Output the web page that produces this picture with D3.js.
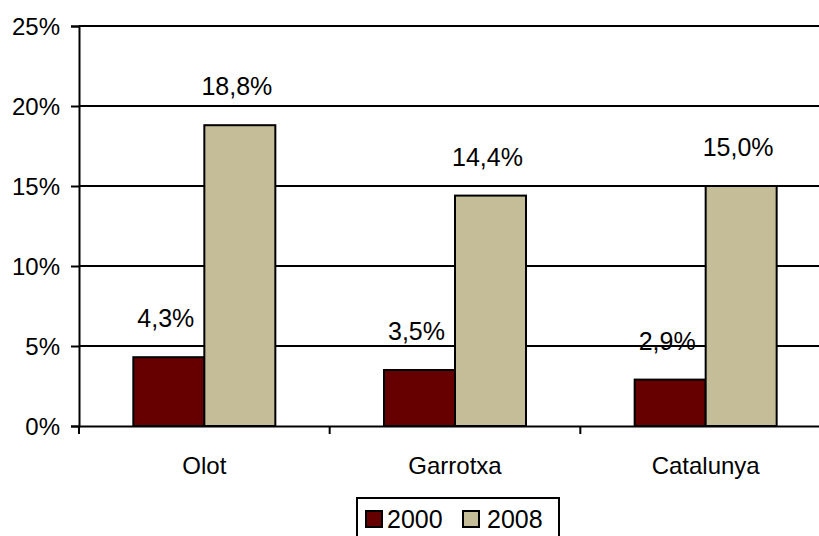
<!DOCTYPE html>
<html>
<head>
<meta charset="utf-8">
<script src="https://cdn.jsdelivr.net/npm/d3@7"></script>
<style>
  body { margin: 0; background: #fff; }
  text { font-family: "Liberation Sans", Arial, sans-serif; fill: #000; }
</style>
</head>
<body>
<div id="chart"></div>
<script>
var categories = ['Olot', 'Garrotxa', 'Catalunya']
var years = ['2000', '2008']
var values2000 = [4.3, 3.5, 2.9]
var values2008 = [18.8, 14.4, 15.0]
var yTicks = [0, 5, 10, 15, 20, 25]
var colors = ['#660000', '#C4BD97']

var width = 819, height = 536
var margin = {top: 26, left: 79, bottom: 110}
var plotRight = 831

var svg = d3.select('#chart').append('svg')
    .attr('width', width)
    .attr('height', height)

var y = d3.scaleLinear()
    .domain([0, 25])
    .range([426, margin.top])

var x = d3.scaleBand()
    .domain(categories)
    .range([margin.left, plotRight])

var xs = d3.scaleBand()
    .domain(years)
    .range([0, 142])

// gridlines
svg.append('g')
    .selectAll('line')
    .data(yTicks.slice(1))
    .enter()
    .append('line')
    .attr('x1', margin.left)
    .attr('x2', width)
    .attr('y1', d => y(d))
    .attr('y2', d => y(d))
    .attr('stroke', 'black')
    .attr('stroke-width', 2)

var data = categories.map((c, i) => ({cat: c, vals: [values2000[i], values2008[i]]}))

// bars
var groups = svg.selectAll('.cat')
    .data(data)
    .enter()
    .append('g')
    .attr('transform', d => 'translate(' + (x(d.cat) + (x.bandwidth() - 142) / 2) + ',0)')

groups.selectAll('rect')
    .data(d => d.vals.map((v, j) => ({year: years[j], v: v, j: j})))
    .enter()
    .append('rect')
    .attr('x', d => xs(d.year))
    .attr('width', xs.bandwidth())
    .attr('y', d => y(d.v))
    .attr('height', d => y(0) - y(d.v))
    .attr('fill', d => colors[d.j])
    .attr('stroke', 'black')
    .attr('stroke-width', 2)

groups.selectAll('.lbl')
    .data(d => d.vals.map((v, j) => ({year: years[j], v: v})))
    .enter()
    .append('text')
    .attr('x', d => xs(d.year) + xs.bandwidth() / 2 - 3)
    .attr('y', d => y(d.v) - 30)
    .attr('text-anchor', 'middle')
    .style('font-size', '25px')
    .text(d => d.v.toFixed(1).replace('.', ',') + '%')

// y axis
var yAxis = svg.append('g')
    .attr('transform', 'translate(' + margin.left + ',0)')
    .call(d3.axisLeft(y).tickValues(yTicks).tickSize(8).tickFormat(d => d + '%'))
yAxis.selectAll('line').attr('stroke', 'black').attr('stroke-width', 2)
yAxis.select('.domain').attr('stroke', 'black').attr('stroke-width', 2)
yAxis.selectAll('text').style('font-size', '24px').attr('x', -19).attr('dy', '0.36em')

// x axis
var xAxis = svg.append('g')
    .attr('transform', 'translate(0,' + y(0) + ')')
    .call(d3.axisBottom(x).tickSize(0))
xAxis.select('.domain').attr('stroke', 'black').attr('stroke-width', 2)
xAxis.selectAll('text').style('font-size', '24px').attr('y', 0).attr('dy', '1.98em')
xAxis.selectAll('.sep')
    .data(categories)
    .enter()
    .append('line')
    .attr('x1', d => x(d))
    .attr('x2', d => x(d))
    .attr('y1', 0)
    .attr('y2', 8)
    .attr('stroke', 'black')
    .attr('stroke-width', 2)

// legend
var legend = svg.append('g').attr('transform', 'translate(357,498)')
legend.append('rect')
    .attr('width', 202)
    .attr('height', 40)
    .attr('fill', 'white')
    .attr('stroke', 'black')
    .attr('stroke-width', 2)
years.forEach(function(yr, i) {
    legend.append('rect')
        .attr('x', 9 + i * 97)
        .attr('y', 13)
        .attr('width', 16)
        .attr('height', 16)
        .attr('fill', colors[i])
        .attr('stroke', 'black')
        .attr('stroke-width', 2)
    legend.append('text')
        .attr('x', 30 + i * 100)
        .attr('y', 30)
        .style('font-size', '25px')
        .text(yr)
})
</script>
</body>
</html>
